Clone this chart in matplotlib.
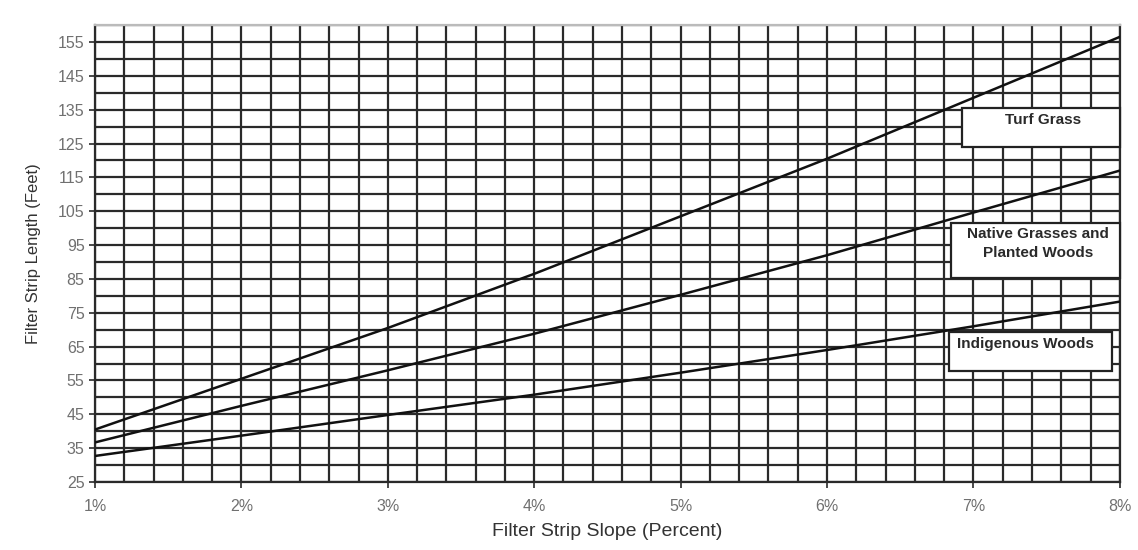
import matplotlib.pyplot as plt
import numpy as np
from matplotlib.patches import Rectangle

plt.rcParams['font.family'] = ['Liberation Sans', 'DejaVu Sans']

# slope in percent
slope = [1, 2, 3, 4, 5, 6, 7, 8]
turf_grass = [40.5, 55.5, 70.5, 86.5, 103.5, 120.5, 138.5, 156.5]
native_grasses = [36.7, 47.5, 58, 68.8, 80.3, 92, 104.6, 117]
indigenous_woods = [32.7, 38.7, 44.8, 50.8, 57.3, 64, 71, 78.3]

x_ticks = [1, 2, 3, 4, 5, 6, 7, 8]
x_tick_labels = ["1%", "2%", "3%", "4%", "5%", "6%", "7%", "8%"]
y_ticks = list(range(25, 156, 10))

fig = plt.figure(figsize=(11.38, 5.5), dpi=100)
ax = fig.add_axes([0.0835, 0.1236, 0.9005, 0.8309])

# 网格：竖线每0.2%，横线每5英尺
for gx in np.arange(1, 8.01, 0.2):
    ax.axvline(gx, color="#2a2a2a", lw=1.6, zorder=1)
for gy in range(25, 161, 5):
    ax.axhline(gy, color="#2a2a2a", lw=1.6, zorder=1)

ax.plot(slope, turf_grass, color="#111111", lw=1.8, zorder=3)
ax.plot(slope, native_grasses, color="#111111", lw=1.8, zorder=3)
ax.plot(slope, indigenous_woods, color="#111111", lw=1.8, zorder=3)

ax.set_xlim(1, 8)
ax.set_ylim(25, 160)
ax.set_xticks(x_ticks)
ax.set_xticklabels(x_tick_labels)
ax.set_yticks(y_ticks)
ax.tick_params(axis="both", colors="#2a2a2a", labelcolor="#707070",
               labelsize=11.5, length=4, width=1.2)
ax.tick_params(axis="x", pad=8)
for s in ax.spines.values():
    s.set_color("#2a2a2a")
    s.set_linewidth(1.6)
ax.spines["top"].set_color("#bbbbbb")

ax.set_xlabel("Filter Strip Slope (Percent)", fontsize=14, color="#333333", labelpad=7)
ax.set_ylabel("Filter Strip Length (Feet)", fontsize=12, color="#333333", labelpad=12)

# 标注框
boxes = [
    (0.846, 0.733, 0.154, 0.085, ["Turf Grass"], 0.925),
    (0.835, 0.446, 0.165, 0.121, ["Native Grasses and", "Planted Woods"], 0.92),
    (0.833, 0.243, 0.159, 0.085, ["Indigenous Woods"], 0.908),
]
for bx, by, bw, bh, lines, cx in boxes:
    ax.add_patch(Rectangle((bx, by), bw, bh, transform=ax.transAxes,
                           facecolor="white", edgecolor="#222222", lw=1.6,
                           zorder=4, clip_on=False))
    ty = by + bh - 0.01
    for ln in lines:
        ax.text(cx, ty, ln, transform=ax.transAxes, ha="center", va="top",
                fontsize=11, fontweight="bold", color="#2a2a2a", zorder=5)
        ty -= 0.04

fig.savefig("out.png", dpi=100, facecolor="white")
